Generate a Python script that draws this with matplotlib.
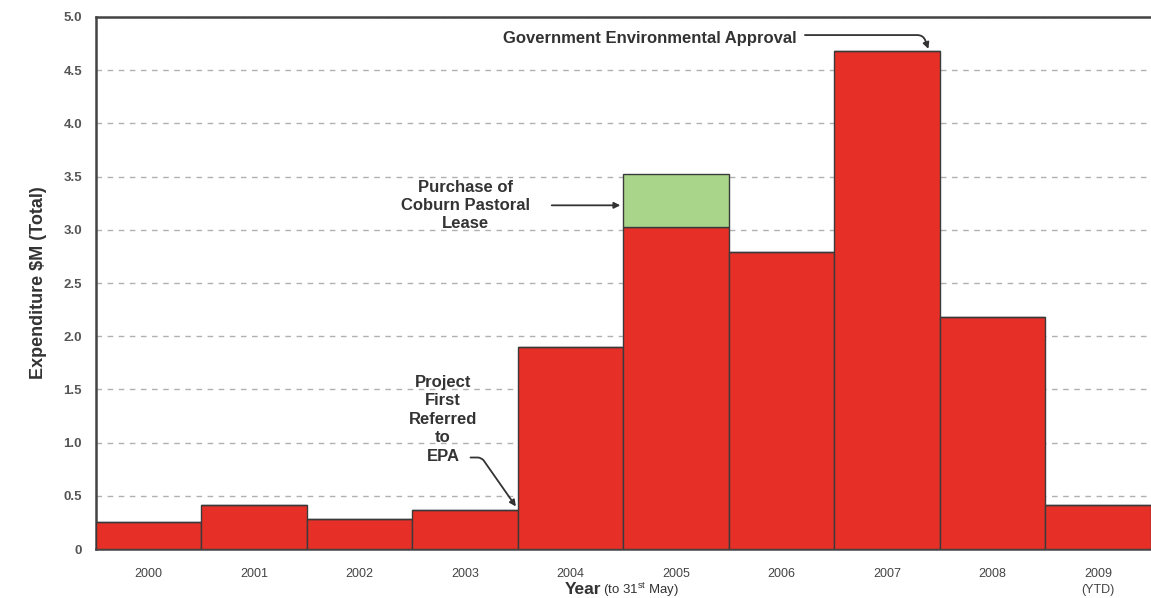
import matplotlib.pyplot as plt

plt.rcParams['font.family'] = ['Liberation Sans', 'DejaVu Sans']

# Data
years = ["2000", "2001", "2002", "2003", "2004", "2005", "2006", "2007", "2008", "2009\n(YTD)"]
expenditure = [0.25, 0.41, 0.28, 0.37, 1.90, 3.03, 2.79, 4.68, 2.18, 0.41]
lease_purchase = [0, 0, 0, 0, 0, 0.49, 0, 0, 0, 0]
yticks = [0, 0.5, 1.0, 1.5, 2.0, 2.5, 3.0, 3.5, 4.0, 4.5, 5.0]
ytick_labels = ["0", "0.5", "1.0", "1.5", "2.0", "2.5", "3.0", "3.5", "4.0", "4.5", "5.0"]

red = "#e52f27"
green = "#a9d58b"
edge = "#3a3a3a"
ink = "#333333"

fig = plt.figure(figsize=(11.51, 5.98), dpi=100)
ax = fig.add_axes([0.0834, 0.0819, 0.9166, 0.8897])

x = list(range(len(years)))

# Bars
ax.bar(x, expenditure, width=1.0, color=red, edgecolor=edge, linewidth=1.0, zorder=3)
ax.bar(x, lease_purchase, width=1.0, bottom=expenditure, color=green,
       edgecolor=edge, linewidth=1.0, zorder=3)

ax.set_xlim(-0.5, len(years) - 0.5)
ax.set_ylim(0, 5.0)

# Grid
ax.set_yticks(yticks)
ax.set_yticklabels(ytick_labels, fontsize=9.5, fontweight="bold", color="#555555")
ax.yaxis.grid(True, linestyle=(0, (4, 4)), color="#b0b0b0", linewidth=1.0, zorder=0)
ax.set_axisbelow(True)

ax.set_xticks(x)
ax.set_xticklabels(years, fontsize=9, color="#444444", va="top", linespacing=1.35)
ax.tick_params(axis="both", length=0)
ax.tick_params(axis="x", pad=14)
ax.tick_params(axis="y", pad=10)

for side in ["top", "left", "bottom"]:
    ax.spines[side].set_color("#444444")
    ax.spines[side].set_linewidth(1.8)
ax.spines["right"].set_visible(False)

# Axis labels
ax.set_ylabel("Expenditure $M (Total)", fontsize=13, fontweight="bold", color=ink, labelpad=12)
fig.text(0.4905, 0.0067, "Year", fontsize=12.5, fontweight="bold", color=ink,
         ha="left", va="baseline")
fig.text(0.5235, 0.0067, r"(to 31$^{\mathregular{st}}$ May)", fontsize=9.5, color=ink,
         ha="left", va="baseline")

# Annotations
ax.text(4.75, 4.80, "Government Environmental Approval", fontsize=12, fontweight="bold",
        color=ink, ha="center", va="center")
ax.annotate("", xy=(7.39, 4.70), xytext=(6.22, 4.83),
            arrowprops=dict(arrowstyle="-|>", color=ink, lw=1.3, mutation_scale=9,
                            shrinkA=0, shrinkB=0,
                            connectionstyle="angle,angleA=0,angleB=110,rad=6"))

ax.text(3.0, 3.23, "Purchase of\nCoburn Pastoral\nLease", fontsize=12, fontweight="bold",
        color=ink, ha="center", va="center", linespacing=1.25)
ax.annotate("", xy=(4.47, 3.23), xytext=(3.82, 3.23),
            arrowprops=dict(arrowstyle="-|>", color=ink, lw=1.3, mutation_scale=9,
                            shrinkA=0, shrinkB=0))

ax.text(2.79, 1.22, "Project\nFirst\nReferred\nto\nEPA", fontsize=12, fontweight="bold",
        color=ink, ha="center", va="center", linespacing=1.3)
ax.annotate("", xy=(3.48, 0.40), xytext=(3.05, 0.86),
            arrowprops=dict(arrowstyle="-|>", color=ink, lw=1.3, mutation_scale=9,
                            shrinkA=0, shrinkB=0,
                            connectionstyle="angle,angleA=0,angleB=125,rad=4"))

fig.savefig("out.png", dpi=100)
